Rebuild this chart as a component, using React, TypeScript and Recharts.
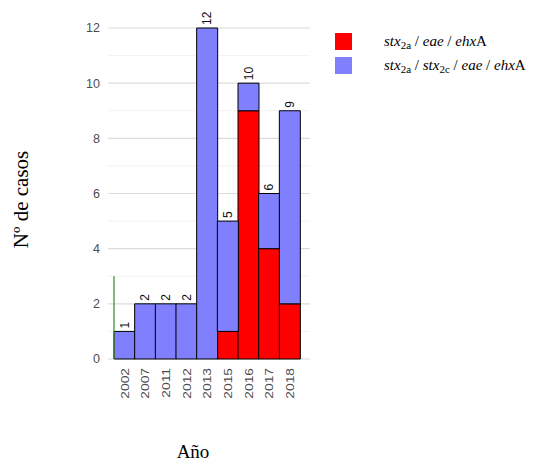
import React from 'react';
import { BarChart, Bar, XAxis, YAxis, CartesianGrid, LabelList, ReferenceLine } from 'recharts';

const years = ['2002', '2007', '2011', '2012', '2013', '2015', '2016', '2017', '2018'];
const redValues = [0, 0, 0, 0, 0, 1, 9, 4, 2];
const blueValues = [1, 2, 2, 2, 12, 4, 1, 2, 7];
const yTicks = [0, 2, 4, 6, 8, 10, 12];
const yMinor = [1, 3, 5, 7, 9, 11];

const data = years.map((y, i) => ({
  year: y,
  red: redValues[i],
  blue: blueValues[i],
  total: redValues[i] + blueValues[i],
}));

const RED = '#FF0000';
const BLUE = '#8080FF';
const SANS = '"Liberation Sans", Arial, sans-serif';
const SERIF = '"Liberation Serif", "Times New Roman", serif';

const XTick = (props: any) => {
  const { x, y, payload } = props;
  return (
    <text
      x={0}
      y={0}
      transform={`translate(${x + 4.2},${y + 1}) rotate(-90) scale(1.2,1)`}
      textAnchor="end"
      fontFamily={SANS}
      fontSize={11.5}
      fill="#4D4D4D"
    >
      {payload.value}
    </text>
  );
};

const TopLabel = (props: any) => {
  const { x, y, width, value } = props;
  const cx = x + width / 2 + 4.3;
  const cy = y - 3;
  return (
    <text
      x={0}
      y={0}
      transform={`translate(${cx},${cy}) rotate(-90)`}
      textAnchor="start"
      fontFamily={SANS}
      fontSize={12}
      fill="#111"
    >
      {value}
    </text>
  );
};

const YTitle = (props: any) => {
  const vb = props.viewBox || { x: 0, y: 0, width: 0, height: 0 };
  const cx = vb.x + 28;
  const cy = vb.y + vb.height / 2 + 6;
  return (
    <text
      x={0}
      y={0}
      transform={`translate(${cx},${cy}) rotate(-90)`}
      textAnchor="middle"
      fontFamily={SERIF}
      fontSize={21}
      fill="#000"
    >
      Nº de casos
    </text>
  );
};

const legendItems = [
  { color: RED, parts: [['stx', 'i'], ['2a', 's'], [' / ', 'n'], ['eae', 'i'], [' / ', 'n'], ['ehx', 'i'], ['A', 'n']] },
  { color: BLUE, parts: [['stx', 'i'], ['2a', 's'], [' / ', 'n'], ['stx', 'i'], ['2c', 's'], [' / ', 'n'], ['eae', 'i'], [' / ', 'n'], ['ehx', 'i'], ['A', 'n']] },
];

const LegendBox = () => (
  <div style={{ position: 'absolute', left: 335, top: 29, fontFamily: SERIF, fontSize: 15, color: '#000' }}>
    {legendItems.map((it, i) => (
      <div key={i} style={{ display: 'flex', alignItems: 'center', height: 24 }}>
        <div style={{ width: 17, height: 17, background: it.color, marginRight: 32 }} />
        <span style={{ whiteSpace: 'nowrap' }}>
          {it.parts.map(([t, k], j) =>
            k === 'i' ? (
              <i key={j}>{t}</i>
            ) : k === 's' ? (
              <span key={j} style={{ fontSize: 11, position: 'relative', top: 3 }}>{t}</span>
            ) : (
              <span key={j} style={{ whiteSpace: 'pre' }}>{t}</span>
            )
          )}
        </span>
      </div>
    ))}
  </div>
);

export default function App() {
  return (
    <div style={{ position: 'absolute', left: 0, top: 0, width: 557, height: 462, background: '#fff' }}>
      <BarChart
        width={557}
        height={462}
        data={data}
        margin={{ top: 28, right: 247, bottom: 0, left: 0 }}
        barCategoryGap={0}
      >
        <CartesianGrid vertical={false} horizontalValues={yMinor} stroke="#EFEFEF" strokeWidth={0.8} />
        <CartesianGrid vertical={false} horizontalValues={yTicks} stroke="#DCDCDC" strokeWidth={1.1} />
        <XAxis
          dataKey="year"
          padding={{ left: 6, right: 10 }}
          tickLine={false}
          axisLine={false}
          tick={<XTick />}
          interval={0}
          height={103}
          label={{ value: 'Año', position: 'insideBottom', offset: 4, dx: -16, fontFamily: SERIF, fontSize: 19, fill: '#000' }}
        />
        <YAxis
          domain={[0, 12]}
          ticks={yTicks}
          tickLine={false}
          axisLine={false}
          width={108}
          tickSize={6}
          tickMargin={2}
          tick={{ fontFamily: SANS, fontSize: 12.5, fill: '#4D4D4D' }}
          label={<YTitle />}
        />
        <Bar dataKey="red" stackId="a" fill={RED} stroke="#000" strokeWidth={1} isAnimationActive={false} />
        <Bar dataKey="blue" stackId="a" fill={BLUE} stroke="#000" strokeWidth={1} isAnimationActive={false}>
          <LabelList dataKey="total" content={<TopLabel />} />
        </Bar>
        <ReferenceLine
          segment={[{ x: '2002', y: 0 }, { x: '2002', y: 3 }]}
          position="start"
          stroke="#2E8B2E"
          strokeWidth={1.2}
          ifOverflow="visible"
        />
      </BarChart>
      <LegendBox />
    </div>
  );
}
